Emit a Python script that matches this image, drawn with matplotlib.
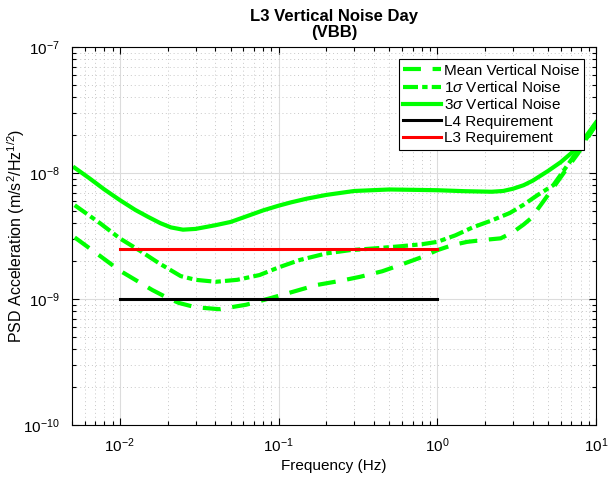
import matplotlib
matplotlib.use('Agg')
import matplotlib.pyplot as plt
from matplotlib.ticker import LogLocator, NullFormatter

## data
freq_mean = [0.0052, 0.0075, 0.01, 0.013, 0.016, 0.02, 0.0236, 0.03, 0.0423, 0.0624, 0.09, 0.123,
             0.173, 0.25, 0.326, 0.45, 0.583, 0.8, 1.0, 1.25, 1.54, 2.0, 2.51, 3.02, 3.5, 3.88,
             4.5, 5.42, 6.5, 7.7, 10]
psd_mean = [3.08e-9, 2.2e-9, 1.68e-9, 1.38e-9, 1.18e-9, 1.02e-9, 9.3e-10, 8.6e-10, 8.3e-10, 9.0e-10,
            1.02e-9, 1.14e-9, 1.29e-9, 1.40e-9, 1.50e-9, 1.66e-9, 1.86e-9, 2.15e-9, 2.44e-9, 2.68e-9,
            2.84e-9, 2.95e-9, 3.03e-9, 3.41e-9, 3.9e-9, 4.35e-9, 5.6e-9, 7.74e-9, 1.07e-8, 1.43e-8, 2.43e-8]

freq_1sig = [0.0052, 0.0075, 0.01, 0.0135, 0.0177, 0.0242, 0.03, 0.0403, 0.055, 0.076, 0.1, 0.136,
             0.2, 0.281, 0.4, 0.583, 0.8, 1.0, 1.3, 1.67, 2.2, 2.87, 3.5, 4.3, 5.38, 7.2, 8.5, 10]
psd_1sig = [5.55e-9, 4.0e-9, 3.03e-9, 2.4e-9, 1.92e-9, 1.52e-9, 1.42e-9, 1.37e-9, 1.42e-9, 1.55e-9,
            1.78e-9, 2.04e-9, 2.3e-9, 2.44e-9, 2.52e-9, 2.62e-9, 2.72e-9, 2.84e-9, 3.2e-9, 3.7e-9,
            4.2e-9, 4.82e-9, 5.6e-9, 6.7e-9, 8.0e-9, 1.34e-8, 1.8e-8, 2.4e-8]

freq_3sig = [0.0052, 0.0065, 0.008, 0.01, 0.0125, 0.015, 0.018, 0.021, 0.025, 0.03, 0.04, 0.05,
             0.065, 0.08, 0.1, 0.12, 0.15, 0.2, 0.3, 0.5, 1.0, 1.5, 2.2, 2.6, 3, 3.5, 4, 5, 6, 7,
             8.5, 10]
psd_3sig = [1.10e-8, 9.0e-9, 7.4e-9, 6.1e-9, 5.1e-9, 4.5e-9, 4.0e-9, 3.7e-9, 3.55e-9, 3.6e-9,
            3.85e-9, 4.09e-9, 4.6e-9, 5.05e-9, 5.5e-9, 5.85e-9, 6.25e-9, 6.7e-9, 7.2e-9, 7.4e-9,
            7.3e-9, 7.17e-9, 7.1e-9, 7.2e-9, 7.5e-9, 8.0e-9, 8.7e-9, 1.04e-8, 1.22e-8, 1.44e-8,
            1.9e-8, 2.52e-8]

req_freq = [0.01, 1.0]
l4_req = [1e-9, 1e-9]
l3_req = [2.5e-9, 2.5e-9]

labels = ['Mean Vertical Noise', r'1$\sigma$ Vertical Noise', r'3$\sigma$ Vertical Noise',
          'L4 Requirement', 'L3 Requirement']

plt.rcParams['font.family'] = ['Liberation Sans', 'DejaVu Sans']
plt.rcParams['mathtext.fontset'] = 'custom'
plt.rcParams['mathtext.rm'] = 'Liberation Sans'
plt.rcParams['mathtext.it'] = 'Liberation Sans:italic'
plt.rcParams['mathtext.bf'] = 'Liberation Sans:bold'

green = '#00ff00'

fig = plt.figure(figsize=(6.13, 4.78), dpi=100)
ax = fig.add_axes([72/613, 1 - 425/478, (596-72)/613, (425-47)/478])

ax.plot(freq_mean, psd_mean, color=green, lw=3, dashes=(4.3, 2.8), label=labels[0])
ax.plot(freq_1sig, psd_1sig, color=green, lw=3, dashes=(3.6, 1.0, 1.3, 1.0), label=labels[1])
ax.plot(freq_3sig, psd_3sig, color=green, lw=3, label=labels[2])
ax.plot(req_freq, l4_req, color='black', lw=2.2, label=labels[3])
ax.plot(req_freq, l3_req, color='red', lw=2.2, label=labels[4])

ax.set_xscale('log')
ax.set_yscale('log')
ax.set_xlim(0.005, 10)
ax.set_ylim(1e-10, 1e-7)

ax.xaxis.set_minor_locator(LogLocator(base=10, subs=range(2, 10)))
ax.yaxis.set_minor_locator(LogLocator(base=10, subs=range(2, 10)))
ax.xaxis.set_minor_formatter(NullFormatter())
ax.yaxis.set_minor_formatter(NullFormatter())

ax.grid(True, which='major', color='#dcdcdc', lw=0.8, ls='-')
ax.grid(True, which='minor', color='#c8c8c8', lw=0.7, ls=(0, (1, 3)))
ax.set_axisbelow(True)

ax.tick_params(which='both', direction='in', top=True, right=True, labelsize=11, width=0.8)
ax.tick_params(which='major', length=5)
ax.tick_params(which='minor', length=3)
ax.tick_params(axis='y', pad=9)
ax.tick_params(axis='x', pad=8)
for s in ax.spines.values():
    s.set_linewidth(0.8)

ax.set_xlabel('Frequency (Hz)', fontsize=11, labelpad=3)
ax.set_ylabel(r'PSD Acceleration (m/s$^2$/Hz$^{1/2}$)', fontsize=11.5)
ax.yaxis.set_label_coords(-0.085, 0.5)
ax.set_title('L3 Vertical Noise Day\n(VBB)', fontsize=12, fontweight='bold', linespacing=1.1, pad=7)

leg = ax.legend(loc='upper right', fontsize=11, fancybox=False, framealpha=1, edgecolor='black',
                handlelength=2.5, handletextpad=0.15, labelspacing=0.15, borderaxespad=0.8,
                borderpad=0.3)
leg.get_frame().set_linewidth(0.8)

plt.savefig('out.png', dpi=100)
